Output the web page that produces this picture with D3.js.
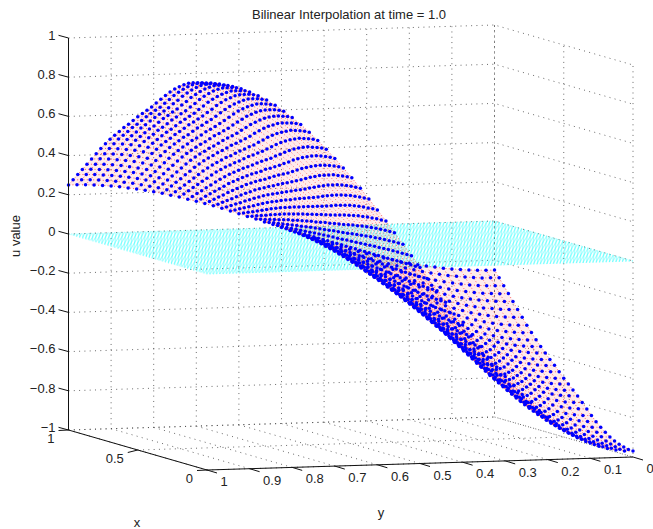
<!DOCTYPE html>
<html>
<head>
<meta charset="utf-8">
<title>Bilinear Interpolation</title>
<script src="https://d3js.org/d3.v7.min.js"></script>
<style>
	html, body { margin: 0; padding: 0; background: #fff; }
	svg { display: block; }
	text { font-family: "Liberation Sans", Arial, sans-serif; fill: #222; font-size: 13px; }
</style>
</head>
<body>
<div id="wrapper"></div>
<script>
	// axis ticks
	var xTicks = [0, 0.5, 1];
	var yTicks = [0, 0.1, 0.2, 0.3, 0.4, 0.5, 0.6, 0.7, 0.8, 0.9, 1];
	var zTicks = [-1, -0.8, -0.6, -0.4, -0.2, 0, 0.2, 0.4, 0.6, 0.8, 1];

	// grid nodes of the surface (31 in x, 51 in y)
	var xNodes = [0, .0333, .0667, .1, .1333, .1667, .2, .2333, .2667, .3, .3333, .3667, .4, .4333, .4667, .5,
		.5333, .5667, .6, .6333, .6667, .7, .7333, .7667, .8, .8333, .8667, .9, .9333, .9667, 1];
	var yNodes = [0, .02, .04, .06, .08, .1, .12, .14, .16, .18, .2, .22, .24, .26, .28, .3, .32, .34, .36, .38, .4, .42, .44, .46, .48, .5,
		.52, .54, .56, .58, .6, .62, .64, .66, .68, .7, .72, .74, .76, .78, .8, .82, .84, .86, .88, .9, .92, .94, .96, .98, 1];

	// u value at each node, one row per x node
	var uNodes = [
		[-.970,-.968,-.962,-.953,-.940,-.922,-.902,-.878,-.850,-.819,-.785,-.748,-.707,-.664,-.618,-.570,-.520,-.468,-.413,-.357,-.300,-.242,-.181,-.121,-.061,0,.061,.121,.181,.242,.300,.357,.413,.468,.520,.570,.618,.664,.707,.748,.785,.819,.850,.878,.902,.922,.940,.953,.962,.968,.970],
		[-.968,-.966,-.960,-.951,-.938,-.921,-.900,-.876,-.848,-.817,-.783,-.746,-.706,-.663,-.617,-.569,-.519,-.467,-.412,-.356,-.299,-.241,-.181,-.121,-.061,0,.061,.121,.181,.241,.299,.356,.412,.467,.519,.569,.617,.663,.706,.746,.783,.817,.848,.876,.900,.921,.938,.951,.960,.966,.968],
		[-.962,-.960,-.954,-.945,-.932,-.915,-.895,-.871,-.843,-.812,-.778,-.742,-.701,-.659,-.613,-.566,-.516,-.464,-.410,-.354,-.297,-.240,-.180,-.120,-.061,0,.061,.120,.180,.240,.297,.354,.410,.464,.516,.566,.613,.659,.701,.742,.778,.812,.843,.871,.895,.915,.932,.945,.954,.960,.962],
		[-.955,-.953,-.947,-.938,-.925,-.908,-.888,-.864,-.837,-.806,-.773,-.736,-.696,-.654,-.608,-.562,-.512,-.460,-.407,-.351,-.295,-.238,-.179,-.119,-.060,0,.060,.119,.179,.238,.295,.351,.407,.460,.512,.562,.608,.654,.696,.736,.773,.806,.837,.864,.888,.908,.925,.938,.947,.953,.955],
		[-.946,-.944,-.938,-.929,-.917,-.900,-.880,-.856,-.829,-.798,-.765,-.729,-.690,-.648,-.603,-.556,-.507,-.456,-.403,-.348,-.292,-.236,-.177,-.118,-.060,0,.060,.118,.177,.236,.292,.348,.403,.456,.507,.556,.603,.648,.690,.729,.765,.798,.829,.856,.880,.900,.917,.929,.938,.944,.946],
		[-.932,-.930,-.925,-.915,-.903,-.886,-.867,-.843,-.816,-.787,-.754,-.719,-.679,-.638,-.594,-.548,-.500,-.449,-.397,-.343,-.288,-.232,-.174,-.117,-.059,0,.059,.117,.174,.232,.288,.343,.397,.449,.500,.548,.594,.638,.679,.719,.754,.787,.816,.843,.867,.886,.903,.915,.925,.930,.932],
		[-.915,-.913,-.908,-.899,-.887,-.870,-.851,-.828,-.802,-.772,-.740,-.705,-.667,-.627,-.583,-.538,-.490,-.441,-.390,-.337,-.283,-.228,-.171,-.114,-.058,0,.058,.114,.171,.228,.283,.337,.390,.441,.490,.538,.583,.627,.667,.705,.740,.772,.802,.828,.851,.870,.887,.899,.908,.913,.915],
		[-.896,-.894,-.889,-.880,-.868,-.852,-.833,-.811,-.785,-.756,-.725,-.691,-.653,-.614,-.571,-.527,-.480,-.432,-.382,-.330,-.277,-.223,-.168,-.112,-.056,0,.056,.112,.168,.223,.277,.330,.382,.432,.480,.527,.571,.614,.653,.691,.725,.756,.785,.811,.833,.852,.868,.880,.889,.894,.896],
		[-.874,-.872,-.867,-.858,-.847,-.831,-.813,-.791,-.766,-.738,-.707,-.674,-.637,-.599,-.557,-.514,-.468,-.421,-.372,-.322,-.270,-.218,-.163,-.109,-.055,0,.055,.109,.163,.218,.270,.322,.372,.421,.468,.514,.557,.599,.637,.674,.707,.738,.766,.791,.813,.831,.847,.858,.867,.872,.874],
		[-.850,-.848,-.843,-.835,-.824,-.808,-.791,-.769,-.745,-.717,-.688,-.655,-.620,-.582,-.541,-.500,-.456,-.410,-.362,-.313,-.263,-.212,-.159,-.106,-.054,0,.054,.106,.159,.212,.263,.313,.362,.410,.456,.500,.541,.582,.620,.655,.688,.717,.745,.769,.791,.808,.824,.835,.843,.848,.850],
		[-.823,-.821,-.816,-.808,-.797,-.783,-.765,-.745,-.721,-.695,-.666,-.635,-.600,-.564,-.524,-.484,-.441,-.397,-.351,-.303,-.254,-.205,-.154,-.103,-.052,0,.052,.103,.154,.205,.254,.303,.351,.397,.441,.484,.524,.564,.600,.635,.666,.695,.721,.745,.765,.783,.797,.808,.816,.821,.823],
		[-.797,-.795,-.791,-.783,-.772,-.758,-.741,-.721,-.698,-.673,-.645,-.614,-.581,-.546,-.508,-.469,-.427,-.384,-.340,-.293,-.246,-.198,-.149,-.100,-.050,0,.050,.100,.149,.198,.246,.293,.340,.384,.427,.469,.508,.546,.581,.614,.645,.673,.698,.721,.741,.758,.772,.783,.791,.795,.797],
		[-.770,-.768,-.764,-.756,-.746,-.732,-.716,-.697,-.675,-.650,-.623,-.594,-.561,-.527,-.490,-.453,-.413,-.371,-.328,-.283,-.238,-.192,-.144,-.096,-.049,0,.049,.096,.144,.192,.238,.283,.328,.371,.413,.453,.490,.527,.561,.594,.623,.650,.675,.697,.716,.732,.746,.756,.764,.768,.770],
		[-.747,-.746,-.741,-.734,-.724,-.710,-.695,-.676,-.654,-.630,-.604,-.576,-.545,-.512,-.476,-.439,-.400,-.360,-.318,-.275,-.231,-.186,-.140,-.093,-.047,0,.047,.093,.140,.186,.231,.275,.318,.360,.400,.439,.476,.512,.545,.576,.604,.630,.654,.676,.695,.710,.724,.734,.741,.746,.747],
		[-.723,-.722,-.717,-.710,-.701,-.688,-.672,-.654,-.633,-.610,-.585,-.557,-.527,-.495,-.461,-.425,-.388,-.348,-.308,-.266,-.223,-.180,-.135,-.090,-.046,0,.046,.090,.135,.180,.223,.266,.308,.348,.388,.425,.461,.495,.527,.557,.585,.610,.633,.654,.672,.688,.701,.710,.717,.722,.723],
		[-.700,-.699,-.694,-.687,-.678,-.666,-.651,-.634,-.613,-.591,-.566,-.540,-.510,-.480,-.446,-.412,-.375,-.337,-.298,-.258,-.216,-.174,-.131,-.088,-.044,0,.044,.088,.131,.174,.216,.258,.298,.337,.375,.412,.446,.480,.510,.540,.566,.591,.613,.634,.651,.666,.678,.687,.694,.699,.700],
		[-.674,-.673,-.669,-.662,-.653,-.641,-.627,-.610,-.590,-.569,-.545,-.520,-.491,-.462,-.429,-.396,-.361,-.325,-.287,-.248,-.208,-.168,-.126,-.084,-.042,0,.042,.084,.126,.168,.208,.248,.287,.325,.361,.396,.429,.462,.491,.520,.545,.569,.590,.610,.627,.641,.653,.662,.669,.673,.674],
		[-.648,-.647,-.643,-.636,-.628,-.616,-.603,-.586,-.568,-.547,-.524,-.500,-.472,-.444,-.413,-.381,-.347,-.312,-.276,-.238,-.200,-.161,-.121,-.081,-.041,0,.041,.081,.121,.161,.200,.238,.276,.312,.347,.381,.413,.444,.472,.500,.524,.547,.568,.586,.603,.616,.628,.636,.643,.647,.648],
		[-.625,-.624,-.620,-.614,-.606,-.594,-.581,-.566,-.548,-.528,-.506,-.482,-.456,-.428,-.398,-.368,-.335,-.301,-.266,-.230,-.193,-.156,-.117,-.078,-.039,0,.039,.078,.117,.156,.193,.230,.266,.301,.335,.368,.398,.428,.456,.482,.506,.528,.548,.566,.581,.594,.606,.614,.620,.624,.625],
		[-.598,-.597,-.593,-.587,-.579,-.569,-.556,-.541,-.524,-.505,-.484,-.461,-.436,-.410,-.381,-.352,-.321,-.288,-.255,-.220,-.185,-.149,-.112,-.075,-.038,0,.038,.075,.112,.149,.185,.220,.255,.288,.321,.352,.381,.410,.436,.461,.484,.505,.524,.541,.556,.569,.579,.587,.593,.597,.598],
		[-.572,-.571,-.567,-.562,-.554,-.544,-.532,-.518,-.501,-.483,-.463,-.441,-.417,-.392,-.364,-.336,-.307,-.276,-.244,-.210,-.177,-.142,-.107,-.072,-.036,0,.036,.072,.107,.142,.177,.210,.244,.276,.307,.336,.364,.392,.417,.441,.463,.483,.501,.518,.532,.544,.554,.562,.567,.571,.572],
		[-.545,-.544,-.541,-.535,-.528,-.518,-.507,-.493,-.477,-.460,-.441,-.420,-.397,-.373,-.347,-.320,-.292,-.263,-.232,-.201,-.168,-.136,-.102,-.068,-.034,0,.034,.068,.102,.136,.168,.201,.232,.263,.292,.320,.347,.373,.397,.420,.441,.460,.477,.493,.507,.518,.528,.535,.541,.544,.545],
		[-.515,-.514,-.511,-.506,-.499,-.490,-.479,-.466,-.451,-.435,-.417,-.397,-.375,-.353,-.328,-.303,-.276,-.248,-.219,-.190,-.159,-.128,-.096,-.064,-.032,0,.032,.064,.096,.128,.159,.190,.219,.248,.276,.303,.328,.353,.375,.397,.417,.435,.451,.466,.479,.490,.499,.506,.511,.514,.515],
		[-.484,-.483,-.480,-.475,-.469,-.460,-.450,-.438,-.424,-.408,-.392,-.373,-.353,-.332,-.308,-.285,-.259,-.233,-.206,-.178,-.150,-.121,-.091,-.061,-.030,0,.030,.061,.091,.121,.150,.178,.206,.233,.259,.285,.308,.332,.353,.373,.392,.408,.424,.438,.450,.460,.469,.475,.480,.483,.484],
		[-.450,-.449,-.446,-.442,-.436,-.428,-.419,-.407,-.394,-.380,-.364,-.347,-.328,-.308,-.287,-.265,-.241,-.217,-.192,-.166,-.139,-.112,-.084,-.056,-.028,0,.028,.056,.084,.112,.139,.166,.192,.217,.241,.265,.287,.308,.328,.347,.364,.380,.394,.407,.419,.428,.436,.442,.446,.449,.450],
		[-.417,-.416,-.414,-.409,-.404,-.397,-.388,-.377,-.365,-.352,-.337,-.322,-.304,-.286,-.266,-.245,-.224,-.201,-.178,-.153,-.129,-.104,-.078,-.052,-.026,0,.026,.052,.078,.104,.129,.153,.178,.201,.224,.245,.266,.286,.304,.322,.337,.352,.365,.377,.388,.397,.404,.409,.414,.416,.417],
		[-.383,-.382,-.380,-.376,-.371,-.364,-.356,-.347,-.336,-.323,-.310,-.295,-.279,-.262,-.244,-.225,-.205,-.185,-.163,-.141,-.118,-.095,-.072,-.048,-.024,0,.024,.048,.072,.095,.118,.141,.163,.185,.205,.225,.244,.262,.279,.295,.310,.323,.336,.347,.356,.364,.371,.376,.380,.382,.383],
		[-.350,-.349,-.347,-.344,-.339,-.333,-.326,-.317,-.307,-.295,-.283,-.270,-.255,-.240,-.223,-.206,-.188,-.169,-.149,-.129,-.108,-.087,-.065,-.044,-.022,0,.022,.044,.065,.087,.108,.129,.149,.169,.188,.206,.223,.240,.255,.270,.283,.295,.307,.317,.326,.333,.339,.344,.347,.349,.350],
		[-.317,-.316,-.314,-.311,-.307,-.301,-.295,-.287,-.278,-.268,-.256,-.244,-.231,-.217,-.202,-.186,-.170,-.153,-.135,-.117,-.098,-.079,-.059,-.040,-.020,0,.020,.040,.059,.079,.098,.117,.135,.153,.170,.186,.202,.217,.231,.244,.256,.268,.278,.287,.295,.301,.307,.311,.314,.316,.317],
		[-.283,-.282,-.281,-.278,-.274,-.269,-.263,-.256,-.248,-.239,-.229,-.218,-.206,-.194,-.180,-.166,-.152,-.136,-.121,-.104,-.087,-.070,-.053,-.035,-.018,0,.018,.035,.053,.070,.087,.104,.121,.136,.152,.166,.180,.194,.206,.218,.229,.239,.248,.256,.263,.269,.274,.278,.281,.282,.283],
		[-.250,-.250,-.248,-.246,-.242,-.238,-.233,-.226,-.219,-.211,-.202,-.193,-.182,-.171,-.159,-.147,-.134,-.121,-.107,-.092,-.077,-.062,-.047,-.031,-.016,0,.016,.031,.047,.062,.077,.092,.107,.121,.134,.147,.159,.171,.182,.193,.202,.211,.219,.226,.233,.238,.242,.246,.248,.250,.250]
	];

	// error surface sits on the zero plane
	var errorLevel = 0;
	var errorRows = 50;
	var errorCols = 130;

	var w = 653;
	var h = 529;
	var svg = d3.select("#wrapper").append("svg")
		.attr("width", w)
		.attr("height", h);

	// oblique view of the unit box: one scale per data axis for each screen axis
	var xToH = d3.scaleLinear().domain([0, 1]).range([0, -138.5]);
	var xToV = d3.scaleLinear().domain([0, 1]).range([0, -40]);
	var yToH = d3.scaleLinear().domain([0, 1]).range([633, 207]);
	var yToV = d3.scaleLinear().domain([0, 1]).range([0, 13]);
	var zToV = d3.scaleLinear().domain([-1, 1]).range([457, 65]);

	function project(x, y, z) {
		return [xToH(x) + yToH(y), xToV(x) + yToV(y) + zToV(z)];
	}

	var line = d3.line();

	function path3(points, cls) {
		return svg.append("path")
			.attr("class", cls)
			.attr("d", line(points.map(function(p) { return project(p[0], p[1], p[2]); })))
			.attr("fill", "none");
	}

	// dotted grid on the two back walls and the floor
	function gridLine(points) {
		path3(points, "grid")
			.attr("stroke", "#444")
			.attr("stroke-width", 0.8)
			.attr("stroke-dasharray", "1 4.3");
	}
	zTicks.forEach(function(z) {
		gridLine([[1, 1, z], [1, 0, z], [0, 0, z]]);
	});
	yTicks.forEach(function(y) {
		gridLine([[0, y, -1], [1, y, -1], [1, y, 1]]);
	});
	xTicks.forEach(function(x) {
		gridLine([[x, 1, -1], [x, 0, -1], [x, 0, 1]]);
	});

	// cyan error surface, fine dotted mesh
	d3.range(errorRows + 1).forEach(function(i) {
		path3([[i / errorRows, 0, errorLevel], [i / errorRows, 1, errorLevel]], "error")
			.attr("stroke", "#00ffff")
			.attr("stroke-opacity", 0.6)
			.attr("stroke-width", 0.6)
			.attr("stroke-dasharray", "1.2 2.1");
	});
	d3.range(errorCols + 1).forEach(function(j) {
		path3([[0, j / errorCols, errorLevel], [1, j / errorCols, errorLevel]], "error")
			.attr("stroke", "#00ffff")
			.attr("stroke-opacity", 0.6)
			.attr("stroke-width", 0.6)
			.attr("stroke-dasharray", "1.2 2.1");
	});

	// red interpolated surface: pale cells plus dotted lines through the nodes
	var cells = [];
	d3.range(xNodes.length - 1).forEach(function(i) {
		d3.range(yNodes.length - 1).forEach(function(j) {
			cells.push([
				project(xNodes[i], yNodes[j], uNodes[i][j]),
				project(xNodes[i + 1], yNodes[j], uNodes[i + 1][j]),
				project(xNodes[i + 1], yNodes[j + 1], uNodes[i + 1][j + 1]),
				project(xNodes[i], yNodes[j + 1], uNodes[i][j + 1])
			]);
		});
	});
	svg.append("g").selectAll("polygon")
		.data(cells)
		.enter()
		.append("polygon")
		.attr("points", function(d) { return d.join(" "); })
		.attr("fill", "#ff0000")
		.attr("fill-opacity", 0.08);

	xNodes.forEach(function(x, i) {
		path3(yNodes.map(function(y, j) { return [x, y, uNodes[i][j]]; }), "red")
			.attr("stroke", "#ff0000")
			.attr("stroke-width", 0.6)
			.attr("stroke-dasharray", "1 2.2");
	});
	yNodes.forEach(function(y, j) {
		path3(xNodes.map(function(x, i) { return [x, y, uNodes[i][j]]; }), "red")
			.attr("stroke", "#ff0000")
			.attr("stroke-width", 0.6)
			.attr("stroke-dasharray", "1 2.2");
	});

	// blue nodes
	var nodes = [];
	xNodes.forEach(function(x, i) {
		yNodes.forEach(function(y, j) {
			nodes.push(project(x, y, uNodes[i][j]));
		});
	});
	svg.append("g").selectAll("circle")
		.data(nodes)
		.enter()
		.append("circle")
		.attr("cx", function(d) { return d[0]; })
		.attr("cy", function(d) { return d[1]; })
		.attr("r", 1.75)
		.attr("fill", "#0000ff");

	// solid axes
	function axisLine(a, b) {
		svg.append("line")
			.attr("x1", a[0]).attr("y1", a[1])
			.attr("x2", b[0]).attr("y2", b[1])
			.attr("stroke", "#111")
			.attr("stroke-width", 1);
	}
	axisLine(project(1, 1, -1), project(1, 1, 1));
	axisLine(project(1, 1, -1), project(0, 1, -1));
	axisLine(project(0, 1, -1), project(0, 0, -1));

	function tickLabel(str) {
		return String(str).replace("-", "\u2212");
	}
	function label(px, py, str, anchor) {
		svg.append("text")
			.attr("x", px)
			.attr("y", py)
			.attr("text-anchor", anchor)
			.text(tickLabel(str));
	}

	zTicks.forEach(function(z) {
		var p = project(1, 1, z);
		axisLine(p, [p[0] - 10, p[1] - 2.7]);
		label(p[0] - 13, p[1] + 1.7, z, "end");
	});
	yTicks.forEach(function(y) {
		var p = project(0, y, -1);
		axisLine(p, [p[0] + 10, p[1] + 3]);
		label(p[0] + 13.5, p[1] + 16, y, "start");
	});
	xTicks.forEach(function(x) {
		var p = project(x, 1, -1);
		axisLine(p, [p[0] - 10, p[1] + (x === 0.5 ? 2.5 : 0.5)]);
		label(p[0] - 14, p[1] + 12.5, x, "end");
	});

	svg.append("text").attr("x", 349).attr("y", 19).attr("text-anchor", "middle").text("Bilinear Interpolation at time = 1.0");
	svg.append("text").attr("x", 381).attr("y", 517).attr("text-anchor", "middle").text("y");
	svg.append("text").attr("x", 137).attr("y", 527).attr("text-anchor", "middle").text("x");
	svg.append("text").attr("transform", "translate(20,236) rotate(-90)").attr("text-anchor", "middle").text("u value");
</script>
</body>
</html>
